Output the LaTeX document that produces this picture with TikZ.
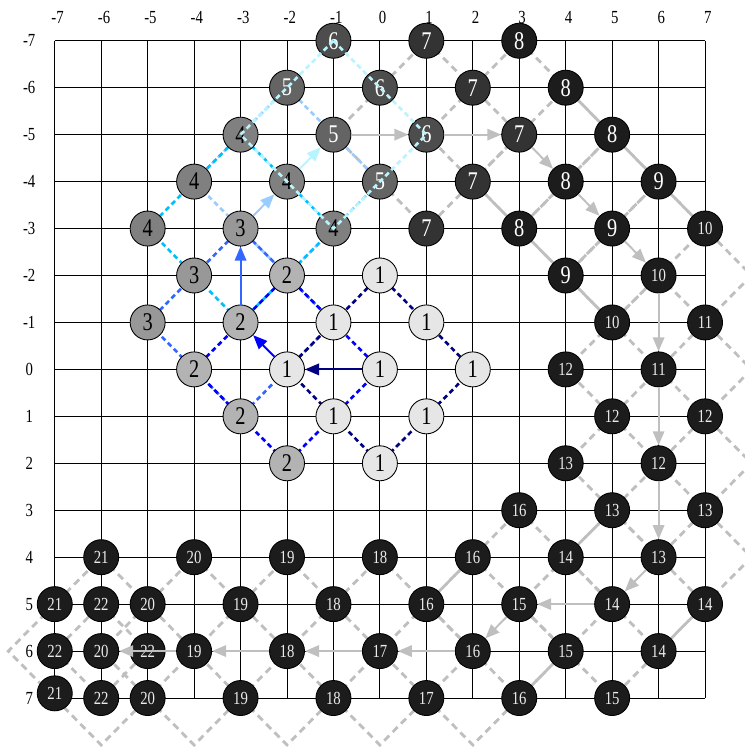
\documentclass[tikz,border=0pt]{standalone}
\usepackage{fontspec}
\setmainfont[FakeStretch=0.8]{Liberation Serif}
\usetikzlibrary{arrows.meta}
\definecolor{c1}{HTML}{E6E6E6}
\definecolor{c2}{HTML}{B3B3B3}
\definecolor{c3}{HTML}{989898}
\definecolor{c4}{HTML}{808080}
\definecolor{c5}{HTML}{646464}
\definecolor{c6}{HTML}{4D4D4D}
\definecolor{c7}{HTML}{333333}
\definecolor{c8}{HTML}{1C1C1C}
\definecolor{lnavy}{HTML}{000080}
\definecolor{lblue}{HTML}{0000FF}
\definecolor{lroyal}{HTML}{3366FF}
\definecolor{lsky}{HTML}{00BFFF}
\definecolor{llight}{HTML}{99CCFF}
\definecolor{lpale}{HTML}{B8F4FF}
\definecolor{lgray}{HTML}{BFBFBF}
\tikzset{
  gridline/.style={line width=0.55pt, black},
  nd/.style={circle, draw=black, line width=0.5pt, minimum size=0.70cm, inner sep=0pt},
  onefont/.style={font=\fontsize{14.5}{14.5}\selectfont},
  twofont/.style={font=\fontsize{10.5}{10.5}\selectfont},
  lv1/.style={nd, fill=c1, onefont},
  lv2/.style={nd, fill=c2, onefont},
  lv3/.style={nd, fill=c3, onefont},
  lv4/.style={nd, fill=c4, onefont},
  lv5/.style={nd, fill=c5, text=white, onefont},
  lv6/.style={nd, fill=c6, text=white, onefont},
  lv7/.style={nd, fill=c7, text=white, onefont},
  lv8/.style={nd, fill=c8, text=white, onefont},
  lvb/.style={nd, fill=c8, text=white!92!black, twofont},
  lab/.style={font=\fontsize{10.5}{10.5}\selectfont},
  bdash/.style={line width=1.5pt, dash pattern=on 2.8pt off 2pt},
  gdash/.style={line width=1.6pt, dash pattern=on 4pt off 2.8pt, lgray},
  arr/.style={-{Triangle[length=8pt,width=6.5pt]}, line width=1.1pt}
}
\newcommand\diam[4]{\draw[#1] (#2,#3) ++(0,-#4) -- ++(#4,#4) -- ++(-#4,#4) -- ++(-#4,-#4) -- cycle;}
\begin{document}
\begin{tikzpicture}[x=0.929cm,y=-0.939cm]
\useasboundingbox (-8.179,-7.868) rectangle (7.839,8.043);
% grid
\foreach \k in {-7,...,7} {
  \draw[gridline] (\k,-7) -- (\k,7);
  \draw[gridline] (-7,\k) -- (7,\k);
}
% axis labels
\foreach \k in {-7,...,7} {
  \node[lab] (tx\k) at (\k+0.06,-7.5) {\k};
  \node[lab] (ly\k) at (-7.55,\k) {\k};
}
% gray diamonds (levels 22 .. 7)
\diam{gdash}{-6}{6}{1}
\diam{gdash}{-6}{6}{2}
\diam{gdash}{-4}{6}{2}
\diam{gdash}{-2}{6}{2}
\diam{gdash}{0}{6}{2}
\diam{gdash}{2}{6}{2}
\diam{gdash}{3}{5}{2}
\diam{gdash}{5}{5}{2}
\diam{gdash}{6}{4}{2}
\diam{gdash}{6}{2}{2}
\diam{gdash}{6}{0}{2}
\diam{gdash}{6}{-2}{2}
\diam{gdash}{5}{-3}{2}
\diam{gdash}{4}{-4}{2}
\diam{gdash}{3}{-5}{2}
\diam{gdash}{1}{-5}{2}
% blue diamonds (levels 5 .. 1)
\diam{bdash,llight}{-2}{-4}{2}
\diam{bdash,lsky}{-3}{-3}{2}
\diam{bdash,lroyal}{-3}{-1}{2}
\diam{bdash,lblue}{-2}{0}{2}
\diam{bdash,lnavy}{0}{0}{2}
% nodes
\foreach \x/\y in {0/-2,-1/-1,1/-1,-2/0,0/0,2/0,-1/1,1/1,0/2}
  \node[lv1] (p\x y\y) at (\x,\y) {1};
\foreach \x/\y in {-2/-2,-3/-1,-4/0,-3/1,-2/2}
  \node[lv2] (p\x y\y) at (\x,\y) {2};
\foreach \x/\y in {-3/-3,-4/-2,-5/-1}
  \node[lv3] (p\x y\y) at (\x,\y) {3};
\foreach \x/\y in {-3/-5,-2/-4,-1/-3,-5/-3,-4/-4}
  \node[lv4] (p\x y\y) at (\x,\y) {4};
\foreach \x/\y in {-2/-6,-1/-5,0/-4}
  \node[lv5] (p\x y\y) at (\x,\y) {5};
\foreach \x/\y in {-1/-7,0/-6,1/-5}
  \node[lv6] (p\x y\y) at (\x,\y) {6};
\foreach \x/\y in {1/-7,2/-6,3/-5,2/-4,1/-3}
  \node[lv7] (p\x y\y) at (\x,\y) {7};
\foreach \x/\y in {3/-7,4/-6,5/-5,4/-4,3/-3}
  \node[lv8] (p\x y\y) at (\x,\y) {8};
\foreach \x/\y in {6/-4,5/-3,4/-2}
  \node[lv8] (p\x y\y) at (\x,\y) {9};
\foreach \x/\y/\t in {7/-3/10,6/-2/10,5/-1/10,
  7/-1/11,6/0/11,
  7/1/12,6/2/12,5/1/12,4/0/12,
  7/3/13,6/4/13,5/3/13,4/2/13,
  7/5/14,6/6/14,5/5/14,4/4/14,
  5/7/15,4/6/15,3/5/15,
  3/3/16,3/7/16,2/6/16,1/5/16,2/4/16,
  1/7/17,0/6/17,
  0/4/18,-1/7/18,-2/6/18,-1/5/18,
  -2/4/19,-3/7/19,-4/6/19,-3/5/19,
  -4/4/20,-5/7/20,-6/6/20,-5/5/20,
  -6/4/21,-7/6.9/21,-7/5/21,
  -6/5/22,-7/6/22,-5/6/22,-6/7/22}
  \node[lvb] (p\x y\y) at (\x,\y) {\t};
% pale cyan diamond (level 6) over the nodes
\diam{bdash,lpale}{-1}{-5}{2}
% arrows
\draw[arr,lnavy] (p0y0) -- (p-2y0);
\draw[arr,lblue] (p-2y0) -- (p-3y-1);
\draw[arr,lroyal] (p-3y-1) -- (p-3y-3);
\draw[arr,llight] (p-3y-3) -- (p-2y-4);
\draw[arr,lpale] (p-2y-4) -- (p-1y-5);
\foreach \a/\b in {p-1y-5/p1y-5,p1y-5/p3y-5,p3y-5/p4y-4,p4y-4/p5y-3,p5y-3/p6y-2,
  p6y-2/p6y0,p6y0/p6y2,p6y2/p6y4,p6y4/p5y5,p5y5/p3y5,p3y5/p2y6,p2y6/p0y6,
  p0y6/p-2y6,p-2y6/p-4y6,p-4y6/p-6y6}
  \draw[arr,lgray] (\a) -- (\b);
\end{tikzpicture}
\end{document}
